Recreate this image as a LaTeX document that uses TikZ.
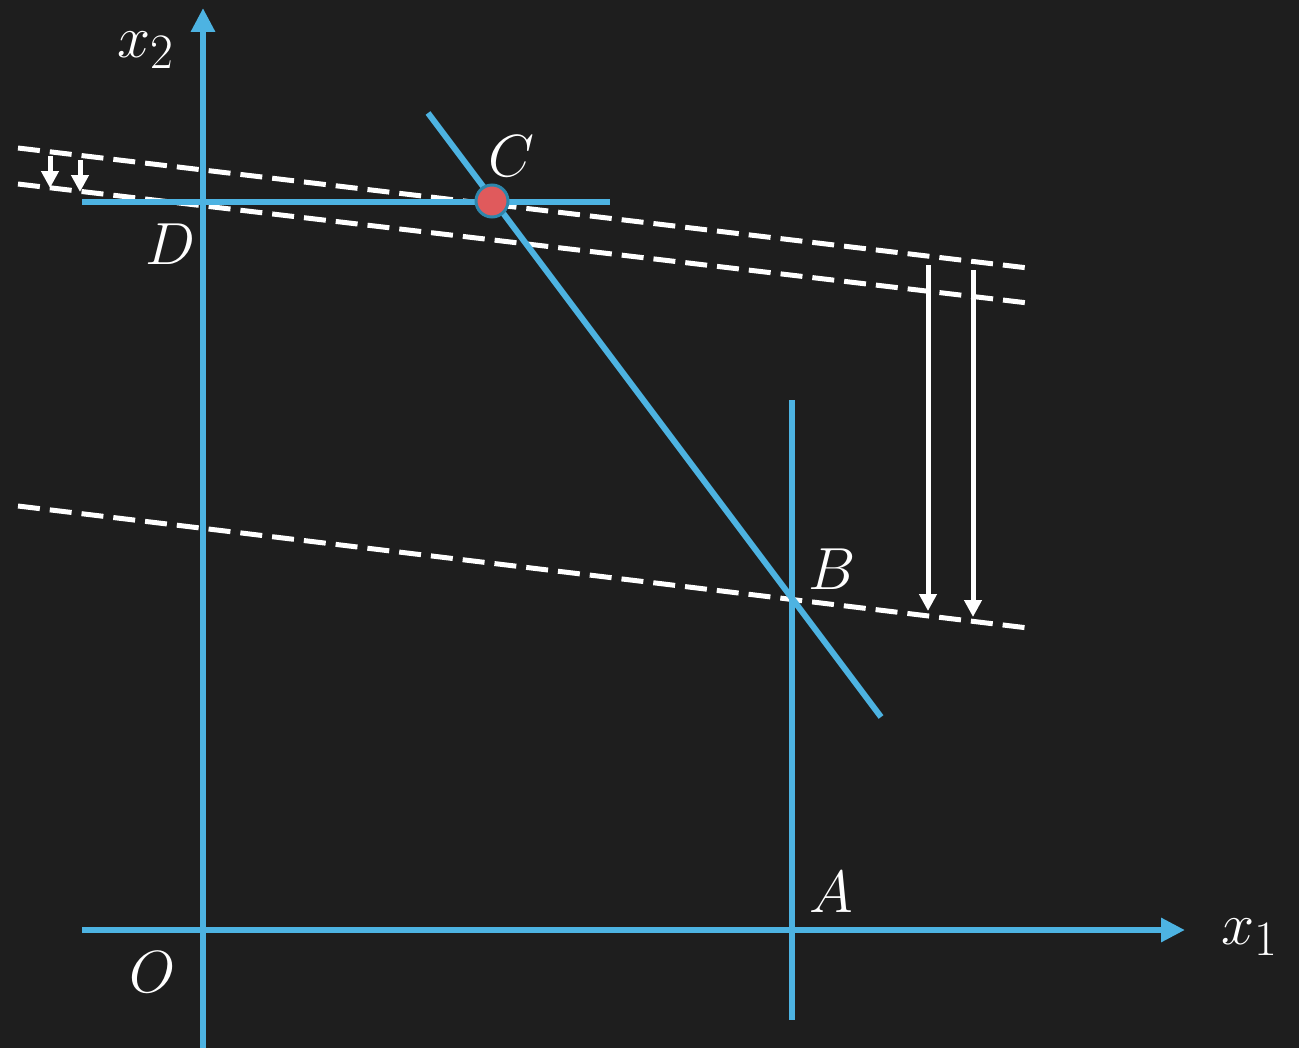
\documentclass[tikz,border=0pt]{standalone}
\usetikzlibrary{arrows.meta}
\definecolor{board}{HTML}{1E1E1E}
\definecolor{axisblue}{HTML}{4DB3E2}
\definecolor{ptred}{HTML}{E05A5C}
\definecolor{ptedge}{HTML}{2E86AB}
\tikzset{
  blueline/.style={draw=axisblue, line width=0.12cm},
  axisarrow/.style={blueline, -{Triangle[length=0.48cm,width=0.46cm]}},
  dashline/.style={draw=white, line width=0.1cm, dash pattern=on 0.44cm off 0.2cm},
  whitearrow/.style={draw=white, line width=0.1cm, -{Triangle[length=0.34cm,width=0.34cm]}},
  lbl/.style={text=white, font=\Huge, scale=1.36, inner sep=0pt}
}
\begin{document}
\begin{tikzpicture}[x={(0.02cm,0)}, y={(0,-0.02cm)}]
\fill[board] (0,0) rectangle (1299,1048);
\useasboundingbox (0,0) rectangle (1299,1048);
% key points
\coordinate (O) at (203,930);
\coordinate (A) at (792,930);
\coordinate (B) at (792,598);
\coordinate (C) at (492,201);
\coordinate (D) at (203,203);
% axes
\coordinate (xs) at (82,930);
\coordinate (xe) at (1185,930);
\coordinate (ys) at (203,1048);
\coordinate (ye) at (203,8);
% dashed lines
\coordinate (l1s) at (18,148); \coordinate (l1e) at (1028,268);
\coordinate (l2s) at (18,184); \coordinate (l2e) at (1028,303);
\coordinate (l3s) at (18,506); \coordinate (l3e) at (1028,628);
\draw[dashline] (l1s) -- (l1e);
\draw[dashline] (l2s) -- (l2e);
\draw[dashline] (l3s) -- (l3e);
% blue lines
\coordinate (vA1) at (792,400); \coordinate (vA2) at (792,1020);
\coordinate (dg1) at (428,113); \coordinate (dg2) at (881,717);
\coordinate (h1) at (82,202); \coordinate (h2) at (610,202);
\draw[axisarrow] (xs) -- (xe);
\draw[axisarrow] (ys) -- (ye);
\draw[blueline] (vA1) -- (vA2);
\draw[blueline] (h1) -- (h2);
\draw[blueline] (dg1) -- (dg2);
% point C
\node[circle, fill=ptred, draw=ptedge, line width=0.06cm, minimum size=0.64cm, inner sep=0pt] (Cpt) at (C) {};
% white arrows
\coordinate (a1s) at (50,156); \coordinate (a1e) at (50,188);
\coordinate (a2s) at (80,160); \coordinate (a2e) at (80,192);
\coordinate (a3s) at (928,265); \coordinate (a3e) at (928,611);
\coordinate (a4s) at (973,270); \coordinate (a4e) at (973,617);
\draw[whitearrow] (a1s) -- (a1e);
\draw[whitearrow] (a2s) -- (a2e);
\draw[whitearrow] (a3s) -- (a3e);
\draw[whitearrow] (a4s) -- (a4e);
% labels
\node[lbl] (lx2) at (146,50) {$x_2$};
\node[lbl] (lx1) at (1250,937) {$x_1$};
\node[lbl] (lC) at (511,156) {$C$};
\node[lbl] (lD) at (170,244) {$D$};
\node[lbl] (lB) at (832,569) {$B$};
\node[lbl] (lA) at (831,892) {$A$};
\node[lbl] (lO) at (153,972) {$O$};
\end{tikzpicture}
\end{document}
